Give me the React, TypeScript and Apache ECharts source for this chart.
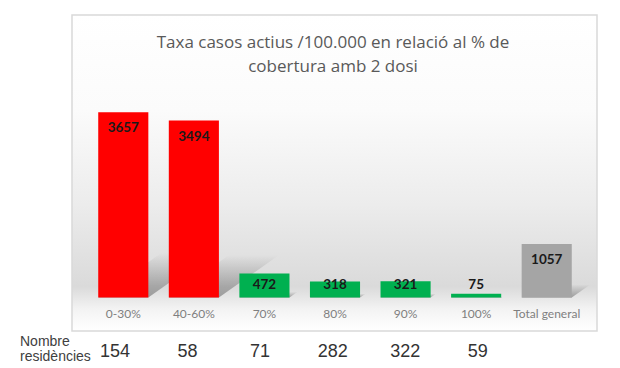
import React, { useEffect, useRef } from "react";
import * as echarts from "echarts";

const categories = ["0-30%", "40-60%", "70%", "80%", "90%", "100%", "Total general"];
const rates = [3657, 3494, 472, 318, 321, 75, 1057];
const residencies = [154, 58, 71, 282, 322, 59];
const titleLines = ["Taxa casos actius /100.000 en relació al % de", "cobertura amb 2 dosi"];
const rowLabel = ["Nombre", "residències"];

const barColors = ["#ff0000", "#ff0000", "#00b050", "#00b050", "#00b050", "#00b050", "#a5a5a5"];
const FONT = "Lato";

export default function App() {
  const ref = useRef<HTMLDivElement>(null);
  useEffect(() => {
    if (!ref.current) return;
    const chart = echarts.init(ref.current, undefined, { renderer: "svg" });
    const barData = rates.map((v, i) => ({
      value: v,
      itemStyle: { color: barColors[i] },
      label:
        v < 600
          ? { position: "insideBottom", distance: 7 }
          : { position: "insideTop", distance: 8 },
    }));
    const shadowData = rates.map((v, i) => [i, v]);
    chart.setOption({
      animation: false,
      graphic: [
        {
          type: "rect",
          z: -10,
          shape: { x: 72, y: 15, width: 525, height: 316 },
          style: {
            stroke: "#d9d9d9",
            lineWidth: 1.5,
            fill: new echarts.graphic.LinearGradient(0, 0, 0, 1, [
              { offset: 0, color: "#ffffff" },
              { offset: 0.3, color: "#fbfbfb" },
              { offset: 0.6, color: "#ececec" },
              { offset: 0.86, color: "#dadada" },
              { offset: 0.93, color: "#f3f3f3" },
              { offset: 1, color: "#ffffff" },
            ]),
          },
        },
        {
          type: "text",
          x: 333,
          y: 29,
          style: {
            text: titleLines.join("\n"),
            textAlign: "center",
            textVerticalAlign: "top",
            fontFamily: "Open Sans",
            fontSize: 17,
            lineHeight: 24,
            fill: "#595959",
          },
        },
        {
          type: "text",
          x: 20,
          y: 334,
          style: {
            text: rowLabel.join("\n"),
            textAlign: "left",
            textVerticalAlign: "top",
            fontFamily: "Liberation Sans",
            fontSize: 14,
            lineHeight: 14.5,
            fill: "#404040",
          },
        },
      ],
      grid: [
        { left: 88, width: 494, top: 95, height: 202.5 },
        { left: 78.7, width: 508, top: 330, height: 1 },
      ],
      xAxis: [
        {
          type: "category",
          data: categories,
          gridIndex: 0,
          axisLine: { show: false },
          axisTick: { show: false },
          axisLabel: {
            color: "#7f7f7f",
            fontFamily: FONT,
            fontSize: 12,
            margin: 10,
            interval: 0,
          },
        },
        {
          type: "category",
          data: [...residencies.map(String), ""],
          gridIndex: 1,
          axisLine: { show: false },
          axisTick: { show: false },
          axisLabel: {
            color: "#333333",
            fontFamily: "Liberation Sans",
            fontSize: 18,
            margin: 11,
            interval: 0,
          },
        },
      ],
      yAxis: [
        { type: "value", min: 0, max: 4000, show: false, splitLine: { show: false }, gridIndex: 0 },
        { type: "value", show: false, splitLine: { show: false }, gridIndex: 1 },
      ],
      series: [
        {
          type: "custom",
          xAxisIndex: 0,
          yAxisIndex: 0,
          z: 1,
          silent: true,
          data: shadowData,
          renderItem: (params: any, api: any) => {
            const idx = api.value(0);
            const val = api.value(1);
            const base = api.coord([idx, 0]);
            const top = api.coord([idx, val]);
            const bw = api.size([1, 0])[0] * 0.71;
            const h = base[1] - top[1];
            const x0 = base[0] - bw / 2;
            const x1 = base[0] + bw / 2;
            const dx = h * 0.34;
            const dy = h * 0.24;
            return {
              type: "polygon",
              shape: {
                points: [
                  [x0, base[1]],
                  [x1, base[1]],
                  [x1 + dx, base[1] - dy],
                  [x0 + dx, base[1] - dy],
                ],
              },
              style: {
                fill: new echarts.graphic.LinearGradient(0, 1, 0, 0, [
                  { offset: 0, color: "rgba(0,0,0,0.32)" },
                  { offset: 1, color: "rgba(0,0,0,0.0)" },
                ]),
              },
            };
          },
        },
        {
          type: "bar",
          xAxisIndex: 0,
          yAxisIndex: 0,
          z: 2,
          data: barData,
          barWidth: "71%",
          label: {
            show: true,
            color: "#1a1a1a",
            fontFamily: FONT,
            fontWeight: "bold",
            fontSize: 13.5,
          },
        },
      ],
    });
    return () => chart.dispose();
  }, []);
  return (
    <div
      ref={ref}
      style={{ position: "fixed", left: 0, top: 0, width: 620, height: 368, background: "#ffffff" }}
    />
  );
}
